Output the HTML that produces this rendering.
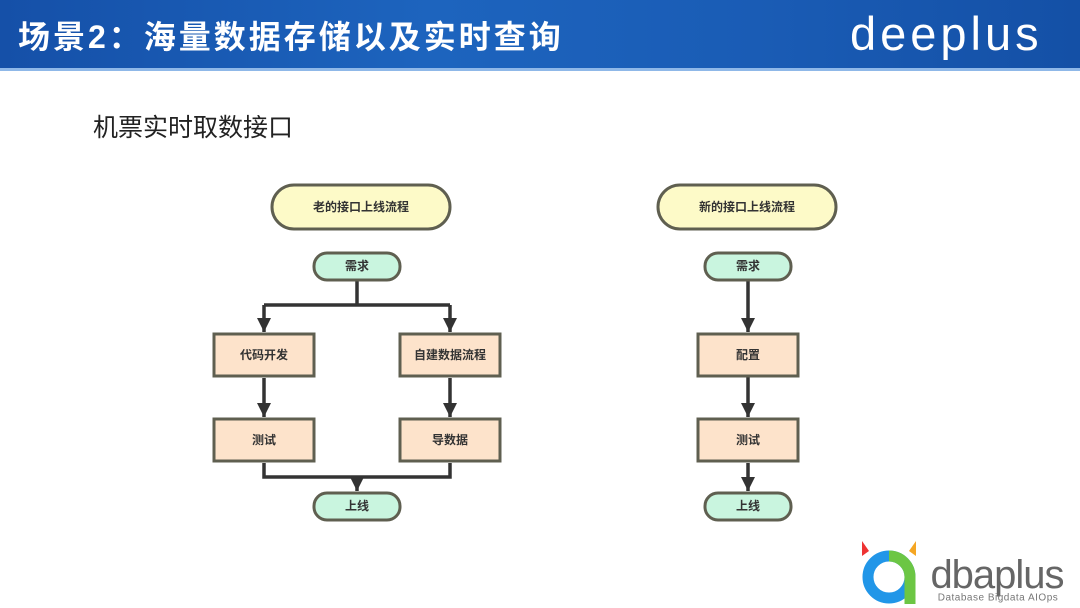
<!DOCTYPE html>
<html><head><meta charset="utf-8"><style>
html,body{margin:0;padding:0;width:1080px;height:608px;overflow:hidden;background:#fff;}
.hdr{position:absolute;left:0;top:0;width:1080px;height:68px;background:linear-gradient(90deg,#1550a8 0%,#1d64be 40%,#1a5cb5 70%,#1450a6 100%);border-bottom:3px solid #8fb8e8;}
.ttl{position:absolute;left:18px;top:12px;font:bold 32px "Liberation Sans","Noto Sans CJK SC",sans-serif;color:#fff;letter-spacing:3px;}
.logo{position:absolute;left:850px;top:9px;font:47px "Liberation Sans","DejaVu Sans",sans-serif;color:#fff;letter-spacing:4px;line-height:50px;}
.sub{position:absolute;left:93px;top:108px;font:25px "Liberation Sans","Noto Sans CJK SC",sans-serif;color:#222;}
svg text{font-family:"Liberation Sans","Noto Sans CJK SC",sans-serif;font-weight:bold;font-size:12px;fill:#333;text-anchor:middle;dominant-baseline:central;}
</style></head><body>
<div class="hdr"><div class="ttl">场景2：海量数据存储以及实时查询</div><div class="logo">deeplus</div></div>
<div class="sub">机票实时取数接口</div>
<svg width="1080" height="608" style="position:absolute;left:0;top:0">
<defs>
<marker id="b" viewBox="0 0 14 14" markerWidth="14" markerHeight="14" refX="7" refY="14" orient="0" markerUnits="userSpaceOnUse"><path d="M0,0 L14,0 L7,14 z" fill="#333"/></marker></defs>
<g stroke="#333" stroke-width="3.5" fill="none">
<path d="M357,281 V305 M264,305 H450"/>
<path d="M264,305 V332" marker-end="url(#b)"/>
<path d="M450,305 V332" marker-end="url(#b)"/>
<path d="M264,378 V417" marker-end="url(#b)"/>
<path d="M450,378 V417" marker-end="url(#b)"/>
<path d="M264,463 V477 H450 V463"/>
<path d="M357,477 V491" marker-end="url(#b)"/>
<path d="M748,281 V332" marker-end="url(#b)"/>
<path d="M748,377 V417" marker-end="url(#b)"/>
<path d="M748,463 V491" marker-end="url(#b)"/>
</g>
<g stroke="#5f5f50" stroke-width="3">
<rect x="272" y="185" width="178" height="44" rx="22" fill="#fdfac8"/>
<rect x="658" y="185" width="178" height="44" rx="22" fill="#fdfac8"/>
<rect x="314" y="253" width="86" height="27" rx="13" fill="#c9f5df"/>
<rect x="705" y="253" width="86" height="27" rx="13" fill="#c9f5df"/>
<rect x="314" y="493" width="86" height="27" rx="13" fill="#c9f5df"/>
<rect x="705" y="493" width="86" height="27" rx="13" fill="#c9f5df"/>
<rect x="214" y="334" width="100" height="42" fill="#fde3cb"/>
<rect x="400" y="334" width="100" height="42" fill="#fde3cb"/>
<rect x="214" y="419" width="100" height="42" fill="#fde3cb"/>
<rect x="400" y="419" width="100" height="42" fill="#fde3cb"/>
<rect x="698" y="334" width="100" height="42" fill="#fde3cb"/>
<rect x="698" y="419" width="100" height="42" fill="#fde3cb"/>
</g>
<text x="361" y="207" font-size="13">老的接口上线流程</text>
<text x="747" y="207" font-size="13">新的接口上线流程</text>
<text x="357" y="266">需求</text><text x="748" y="266">需求</text>
<text x="357" y="506">上线</text><text x="748" y="506">上线</text>
<text x="264" y="355">代码开发</text><text x="450" y="355">自建数据流程</text>
<text x="264" y="440">测试</text><text x="450" y="440">导数据</text>
<text x="748" y="355">配置</text><text x="748" y="440">测试</text>
<g>
<path d="M862,541 L869,551 L862,556z" fill="#e33"/>
<path d="M916,541 L909,551 L916,556z" fill="#f5a623"/>
<circle cx="889" cy="577" r="21" fill="none" stroke="#2196e8" stroke-width="11"/>
<path d="M889,556 A21,21 0 0 1 910,577 L910,604" fill="none" stroke="#6cc644" stroke-width="11"/>
<text x="997" y="575" style="font-size:40px;font-weight:normal;fill:#666;letter-spacing:-1px">dbaplus</text>
<text x="998" y="598" style="font-size:10px;font-weight:normal;fill:#777;letter-spacing:0.5px">Database  Bigdata  AIOps</text>
</g>
</svg>
</body></html>
